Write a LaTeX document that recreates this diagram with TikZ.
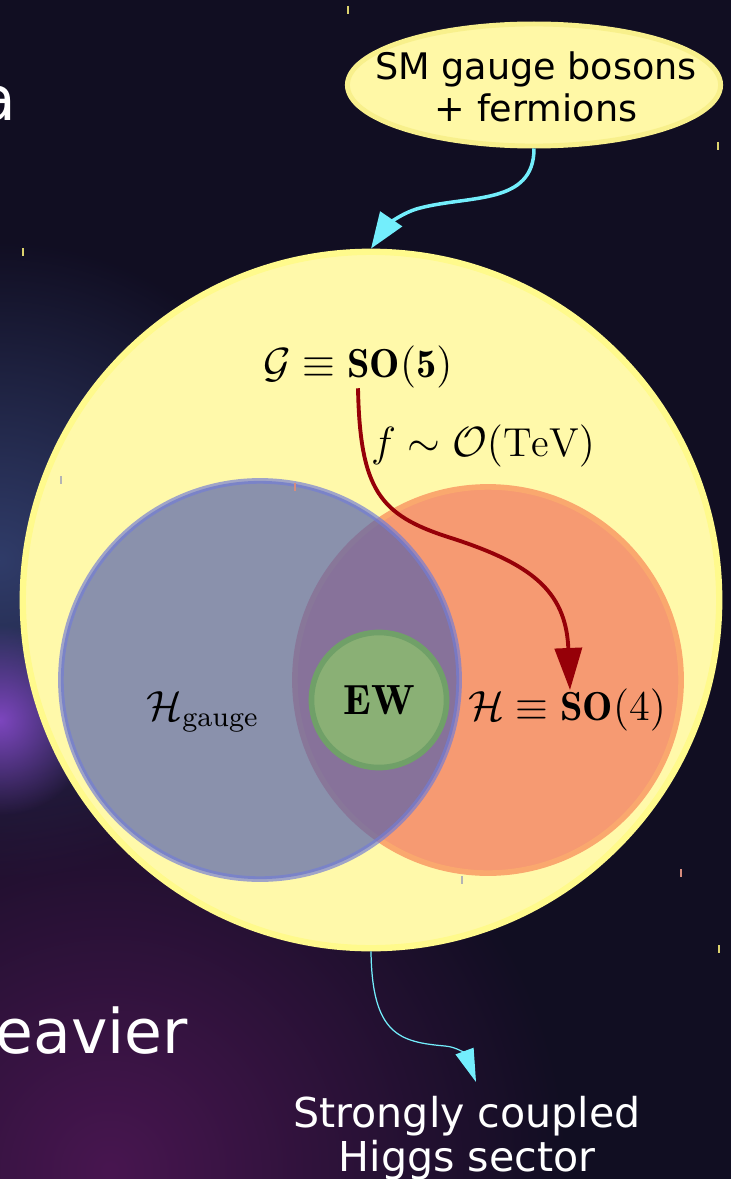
\documentclass[tikz,border=0pt]{standalone}
\usepackage{amsmath,amsfonts}
\usepackage{fontspec}
\usepackage{xcolor}
\usetikzlibrary{
	shapes.geometric,
	arrows.meta,
	fadings
}
\newfontfamily\handfont{DejaVu Sans}

\definecolor{skydark}{RGB}{17,14,34}
\definecolor{glowblue}{RGB}{48,60,105}
\definecolor{glowmagenta}{RGB}{72,22,80}
\definecolor{glowpurple}{RGB}{125,70,190}
\definecolor{groupyellow}{RGB}{255,249,170}
\definecolor{groupyellowrim}{RGB}{255,250,140}
\definecolor{hsoorange}{RGB}{246,154,114}
\definecolor{hsoorangerim}{RGB}{250,168,110}
\definecolor{gaugeblue}{RGB}{83,96,174}
\definecolor{gaugebluerim}{RGB}{115,125,214}
\definecolor{ewgreen}{RGB}{138,176,117}
\definecolor{ewgreenrim}{RGB}{112,160,104}
\definecolor{cosetred}{RGB}{150,0,8}
\definecolor{linkcyan}{RGB}{115,238,252}
\definecolor{bubbleyellow}{RGB}{255,248,166}
\definecolor{bubblerim}{RGB}{248,240,140}
\definecolor{staryellow}{RGB}{220,210,110}
\definecolor{stargray}{RGB}{180,180,180}
\definecolor{starpink}{RGB}{215,140,125}

\tikzfading[name=glowfade, inner color=transparent!0, outer color=transparent!100]

\begin{document}
\begin{tikzpicture}[
					x=0.01cm, y=-0.01cm,
					hand_text/.style={
							font=\handfont\fontsize{11.7}{12.5}\selectfont,
							text=white,
							align=center
						},
					big_hand/.style={
							font=\handfont\fontsize{17.5}{20}\selectfont,
							text=white,
							inner sep=0pt
						},
					math_label/.style={
							font=\fontsize{11.5}{14}\selectfont,
							inner sep=0pt,
							anchor=base
						},
					group_disc/.style={
							circle,
							line width=1.6pt,
							inner sep=0pt
						},
					star_tick/.style={
							line width=0.4pt
						},
					>=stealth
				]
				% night sky
				\useasboundingbox (0,0) rectangle (731,1179);
				\clip (0,0) rectangle (731,1179);
				\fill[skydark] (0,0) rectangle (731,1179);
				\fill[glowblue, path fading=glowfade] (0,560) circle (320);
				\fill[glowmagenta, path fading=glowfade] (110,1170) circle (460);
				\fill[glowpurple, path fading=glowfade] (0,720) circle (95);

				\node[big_hand, anchor=base east] (wordtail) at (17,121) {a};
				\node[big_hand, anchor=base west] (heavier) at (-5,1053) {eavier};

				% groups
				\node[group_disc, fill=groupyellow, draw=groupyellowrim, line width=1.8pt, minimum size=6.96cm] (Gdisc) at (371,600) {};
				\node[group_disc, fill=hsoorange, draw=hsoorangerim, minimum size=3.86cm] (Hdisc) at (488,680) {};
				\node[group_disc, fill=gaugeblue, draw=gaugebluerim, opacity=0.68, minimum size=3.98cm] (gaugedisc) at (260,680) {};
				\node[group_disc, fill=ewgreen, draw=ewgreenrim, minimum size=1.35cm, font=\fontsize{12}{14}\selectfont] (ewdisc) at (379,700) {$\mathbf{EW}$};

				\node[math_label] (Glabel) at (358,377) {$\mathcal{G}\equiv\mathbf{SO(5)}$};
				\node[math_label] (flabel) at (483,456) {$f\sim\mathcal{O}(\mathrm{TeV})$};
				\node[math_label] (gaugelabel) at (203,720) {$\mathcal{H}_{\mathrm{gauge}}$};
				\node[math_label] (Hlabel) at (567,720) {$\mathcal{H}\equiv\mathbf{SO}(4)$};

				% bubble and caption
				\node[ellipse, fill=bubbleyellow, draw=bubblerim, line width=1.4pt, minimum width=3.73cm, minimum height=1.22cm] (bubble) at (534,85) {};
				\node[hand_text, text=black, font=\handfont\fontsize{10.4}{12}\selectfont] (bubbletext) at (536,87) {SM gauge bosons\\+ fermions};
				\node[hand_text] (higgslabel) at (467,1138) {Strongly coupled\\Higgs sector};

				\coordinate (sotip) at (570,690);
				\coordinate (hstip) at (476,1082);

				\draw[-{Triangle[length=0.42cm, width=0.27cm]}, line width=1.1pt, cosetred] (Glabel.south)
				.. controls (360,490) and (380,515) .. (448,537)
				.. controls (530,563) and (566,590) .. (sotip);
				\draw[-{Triangle[length=0.36cm, width=0.26cm]}, line width=1pt, linkcyan] (bubble.south)
				.. controls (534,205) and (470,195) .. (420,208)
				.. controls (400,213) and (385,228) .. (Gdisc.north);
				\draw[-{Triangle[length=0.33cm, width=0.19cm]}, line width=0.35pt, linkcyan] (Gdisc.south)
				.. controls (372,1035) and (400,1042) .. (445,1046)
				.. controls (458,1047) and (466,1055) .. (hstip);

				% stars
				\foreach \sx/\sy/\sc in {348/10/staryellow, 718/146/staryellow, 23/252/staryellow, 61/480/stargray, 295/487/starpink, 462/880/stargray, 681/873/starpink, 719/949/staryellow}
					\draw[star_tick, \sc] (\sx,\sy-4) -- (\sx,\sy+4);
		\end{tikzpicture}
\end{document}
